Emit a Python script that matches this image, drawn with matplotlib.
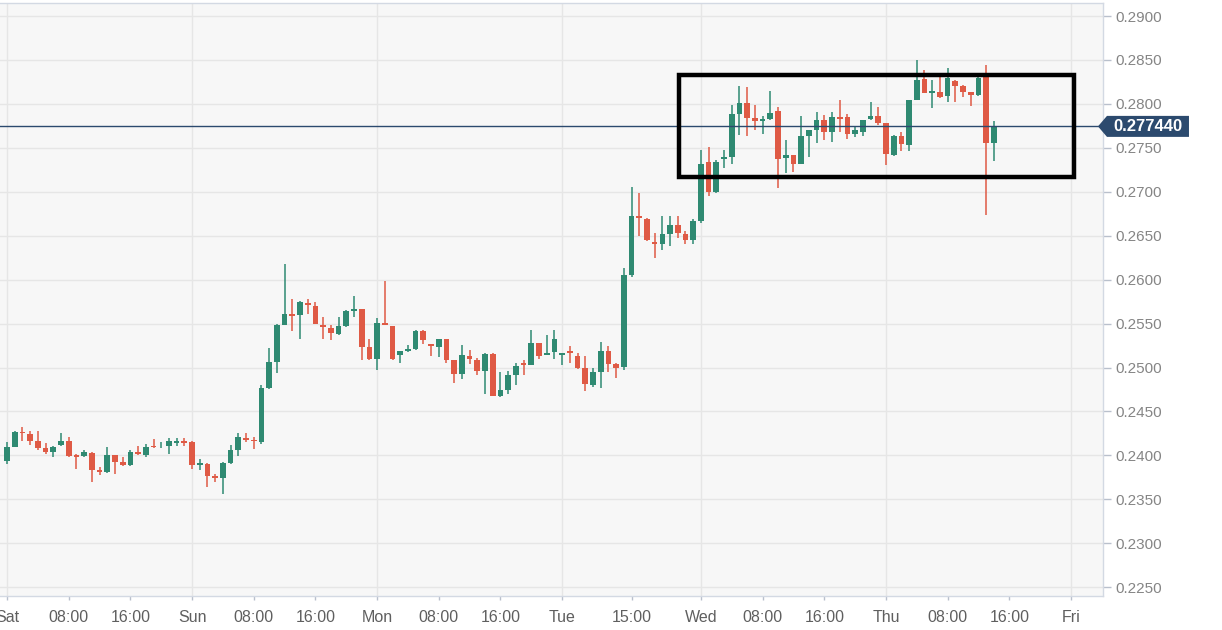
import matplotlib
matplotlib.use("Agg")
import matplotlib.pyplot as plt
from matplotlib.patches import Polygon, Rectangle
from matplotlib.transforms import IdentityTransform
import numpy as np

# ---------------- data (hourly candles, index 0 = Sat 00:00) ----------------
opens = [0.2394, 0.2410, 0.2427, 0.2424, 0.2416, 0.2408, 0.2404, 0.2412, 0.2416, 0.2400,
         0.2399, 0.2403, 0.2383, 0.2381, 0.2400, 0.2392, 0.2389, 0.2404, 0.2401, 0.2411,
         0.2409, 0.2411, 0.2414, 0.2416, 0.2415, 0.2389, 0.2390, 0.2376, 0.2374, 0.2391,
         0.2406, 0.2420, 0.2418, 0.2415, 0.2477, 0.2506, 0.2548, 0.2561, 0.2560, 0.2573,
         0.2570, 0.2548, 0.2545, 0.2538, 0.2547, 0.2564, 0.2567, 0.2523, 0.2510, 0.2551,
         0.2547, 0.2514, 0.2519, 0.2521, 0.2541, 0.2527, 0.2523, 0.2532, 0.2508, 0.2493,
         0.2513, 0.2508, 0.2496, 0.2515, 0.2468, 0.2474, 0.2491, 0.2505, 0.2503, 0.2528,
         0.2514, 0.2518, 0.2514, 0.2519, 0.2513, 0.2499, 0.2480, 0.2495, 0.2519, 0.2504,
         0.2501, 0.2605, 0.2672, 0.2669, 0.2643, 0.2641, 0.2652, 0.2662, 0.2652, 0.2645,
         0.2667, 0.2734, 0.2700, 0.2737, 0.2740, 0.2788, 0.2801, 0.2784, 0.2781, 0.2783,
         0.2792, 0.2738, 0.2742, 0.2732, 0.2763, 0.2770, 0.2782, 0.2768, 0.2785, 0.2785,
         0.2766, 0.2768, 0.2783, 0.2786, 0.2778, 0.2742, 0.2764, 0.2753, 0.2804, 0.2828,
         0.2812, 0.2814, 0.2809, 0.2826, 0.2820, 0.2813, 0.2810, 0.2831, 0.2756]
highs = [0.2415, 0.2428, 0.2432, 0.2428, 0.2428, 0.2414, 0.2411, 0.2425, 0.2421, 0.2402,
         0.2406, 0.2404, 0.2387, 0.2409, 0.2400, 0.2398, 0.2406, 0.2411, 0.2413, 0.2419,
         0.2415, 0.2420, 0.2420, 0.2420, 0.2416, 0.2396, 0.2391, 0.2379, 0.2393, 0.2412,
         0.2425, 0.2425, 0.2421, 0.2480, 0.2522, 0.2549, 0.2618, 0.2578, 0.2576, 0.2578,
         0.2575, 0.2558, 0.2548, 0.2558, 0.2566, 0.2581, 0.2567, 0.2533, 0.2556, 0.2599,
         0.2547, 0.2519, 0.2526, 0.2543, 0.2543, 0.2527, 0.2533, 0.2532, 0.2508, 0.2526,
         0.2520, 0.2511, 0.2517, 0.2517, 0.2495, 0.2496, 0.2505, 0.2509, 0.2543, 0.2528,
         0.2537, 0.2543, 0.2517, 0.2524, 0.2517, 0.2513, 0.2499, 0.2529, 0.2524, 0.2505,
         0.2613, 0.2705, 0.2699, 0.2670, 0.2653, 0.2672, 0.2672, 0.2672, 0.2655, 0.2669,
         0.2748, 0.2751, 0.2736, 0.2748, 0.2799, 0.2820, 0.2819, 0.2799, 0.2786, 0.2815,
         0.2797, 0.2759, 0.2742, 0.2786, 0.2770, 0.2791, 0.2787, 0.2791, 0.2804, 0.2789,
         0.2774, 0.2782, 0.2802, 0.2797, 0.2778, 0.2765, 0.2768, 0.2804, 0.2850, 0.2839,
         0.2827, 0.2831, 0.2841, 0.2827, 0.2822, 0.2813, 0.2831, 0.2844, 0.2780]
lows = [0.2390, 0.2409, 0.2416, 0.2412, 0.2406, 0.2402, 0.2398, 0.2411, 0.2398, 0.2385,
        0.2398, 0.2370, 0.2378, 0.2380, 0.2379, 0.2388, 0.2388, 0.2400, 0.2398, 0.2408,
        0.2408, 0.2402, 0.2411, 0.2411, 0.2385, 0.2383, 0.2364, 0.2370, 0.2356, 0.2390,
        0.2399, 0.2415, 0.2407, 0.2413, 0.2476, 0.2494, 0.2548, 0.2542, 0.2532, 0.2561,
        0.2550, 0.2532, 0.2531, 0.2537, 0.2546, 0.2558, 0.2509, 0.2508, 0.2497, 0.2548,
        0.2509, 0.2505, 0.2518, 0.2520, 0.2527, 0.2513, 0.2512, 0.2505, 0.2482, 0.2487,
        0.2504, 0.2491, 0.2470, 0.2468, 0.2466, 0.2470, 0.2480, 0.2492, 0.2503, 0.2510,
        0.2514, 0.2510, 0.2503, 0.2505, 0.2498, 0.2473, 0.2478, 0.2477, 0.2495, 0.2488,
        0.2497, 0.2603, 0.2650, 0.2644, 0.2625, 0.2634, 0.2638, 0.2647, 0.2641, 0.2641,
        0.2665, 0.2695, 0.2699, 0.2727, 0.2732, 0.2765, 0.2764, 0.2770, 0.2766, 0.2782,
        0.2704, 0.2721, 0.2722, 0.2732, 0.2740, 0.2756, 0.2759, 0.2757, 0.2768, 0.2760,
        0.2762, 0.2763, 0.2782, 0.2776, 0.2731, 0.2741, 0.2746, 0.2746, 0.2804, 0.2812,
        0.2795, 0.2807, 0.2802, 0.2802, 0.2808, 0.2798, 0.2809, 0.2674, 0.2735]
closes = [0.2410, 0.2427, 0.2425, 0.2416, 0.2408, 0.2404, 0.2410, 0.2416, 0.2399, 0.2398,
          0.2404, 0.2383, 0.2381, 0.2400, 0.2392, 0.2389, 0.2404, 0.2402, 0.2409, 0.2409,
          0.2410, 0.2416, 0.2416, 0.2414, 0.2389, 0.2391, 0.2376, 0.2374, 0.2391, 0.2406,
          0.2421, 0.2418, 0.2416, 0.2477, 0.2506, 0.2548, 0.2561, 0.2559, 0.2575, 0.2571,
          0.2550, 0.2546, 0.2539, 0.2547, 0.2564, 0.2567, 0.2523, 0.2510, 0.2551, 0.2548,
          0.2510, 0.2519, 0.2521, 0.2542, 0.2531, 0.2524, 0.2532, 0.2508, 0.2493, 0.2514,
          0.2510, 0.2496, 0.2515, 0.2468, 0.2474, 0.2491, 0.2502, 0.2503, 0.2528, 0.2513,
          0.2516, 0.2533, 0.2517, 0.2516, 0.2499, 0.2481, 0.2495, 0.2519, 0.2504, 0.2500,
          0.2605, 0.2672, 0.2670, 0.2645, 0.2641, 0.2652, 0.2662, 0.2653, 0.2645, 0.2667,
          0.2732, 0.2700, 0.2734, 0.2740, 0.2788, 0.2801, 0.2784, 0.2781, 0.2783, 0.2790,
          0.2737, 0.2742, 0.2732, 0.2763, 0.2770, 0.2782, 0.2768, 0.2785, 0.2783, 0.2766,
          0.2770, 0.2782, 0.2786, 0.2778, 0.2743, 0.2764, 0.2754, 0.2804, 0.2827, 0.2812,
          0.2815, 0.2808, 0.2829, 0.2820, 0.2813, 0.2810, 0.2830, 0.2755, 0.27744]

tick_pos = [0, 8, 16, 24, 32, 40, 48, 56, 64, 72, 81, 90, 98, 106, 114, 122, 130, 138]
tick_labels = ["Sat", "08:00", "16:00", "Sun", "08:00", "16:00", "Mon", "08:00", "16:00",
               "Tue", "15:00", "Wed", "08:00", "16:00", "Thu", "08:00", "16:00", "Fri"]
day_pos = [0, 24, 48, 72, 90, 114, 138]
y_ticks = [0.2250, 0.2300, 0.2350, 0.2400, 0.2450, 0.2500, 0.2550, 0.2600,
           0.2650, 0.2700, 0.2750, 0.2800, 0.2850, 0.2900]
last_price = 0.277440
box_x = (87.1, 138.4)
box_y = (0.27167, 0.28328)

# ---------------- style ----------------
GREEN = "#2f8a72"
RED = "#df5a45"
BG = "#f7f7f7"
GRID = "#e6e6e6"
SPINE = "#d3d9e3"
NAVY = "#2c4a6e"

plt.rcParams["font.family"] = ["Liberation Sans", "DejaVu Sans"]

fig = plt.figure(figsize=(12.22, 6.30), dpi=100)
ax = fig.add_axes([0.0, 0.054, 0.9026, 0.9948 - 0.054])
ax.set_facecolor(BG)

o = np.array(opens); h = np.array(highs); l = np.array(lows); c = np.array(closes)
idx = np.arange(len(o))
up = c >= o
colors = np.where(up, GREEN, RED)

ax.vlines(idx, l, h, colors=colors, linewidth=1.1, zorder=3)
body_bottom = np.minimum(o, c)
body_h = np.maximum(np.abs(c - o), 0.00008)
ax.bar(idx, body_h, bottom=body_bottom, width=0.74, color=colors, linewidth=0, zorder=4)

ax.set_xlim(-0.91, 142.15)
ax.set_ylim(0.2240, 0.29145)

# grid
for yt in y_ticks:
    ax.axhline(yt, color=GRID, linewidth=1, zorder=1)
for dp in day_pos:
    ax.axvline(dp, color=GRID, linewidth=1, zorder=1)

# spines
ax.spines["left"].set_visible(False)
for s in ["top", "right", "bottom"]:
    ax.spines[s].set_color(SPINE)
    ax.spines[s].set_linewidth(1)

# ticks
ax.yaxis.tick_right()
ax.set_yticks(y_ticks)
ax.set_yticklabels([f"{v:.4f}" for v in y_ticks])
ax.tick_params(axis="y", direction="out", length=6, width=1, color="#b9c0cc",
               labelcolor="#858585", labelsize=11, pad=3)
ax.set_xticks(tick_pos)
ax.set_xticklabels(tick_labels)
ax.tick_params(axis="x", direction="out", length=3, width=1, color="#b9c0cc",
               labelcolor="#5f5f5f", labelsize=11.5, pad=7)

# last price line
ax.axhline(last_price, color=NAVY, linewidth=1, zorder=5)

# highlight box
ax.add_patch(Rectangle((box_x[0], box_y[0]), box_x[1] - box_x[0], box_y[1] - box_y[0],
                       fill=False, edgecolor="black", linewidth=3.2, zorder=6))

# price tag on the right axis (pixel coordinates derived from data)
fig.canvas.draw()
xr, yp = ax.transAxes.transform((1.0, 0.0))[0], ax.transData.transform((0, last_price))[1]
hh = 10.5
tag = Polygon([(xr - 5, yp), (xr + 4, yp + hh), (xr + 86, yp + hh),
               (xr + 86, yp - hh), (xr + 4, yp - hh)], closed=True,
              facecolor=NAVY, edgecolor="none", transform=IdentityTransform(), zorder=10)
fig.add_artist(tag)
fig.text(xr + 45, yp, f"{last_price:.6f}", transform=IdentityTransform(), color="white",
         fontsize=12, fontweight="bold", ha="center", va="center", zorder=11)

fig.savefig("out.png", dpi=100)
